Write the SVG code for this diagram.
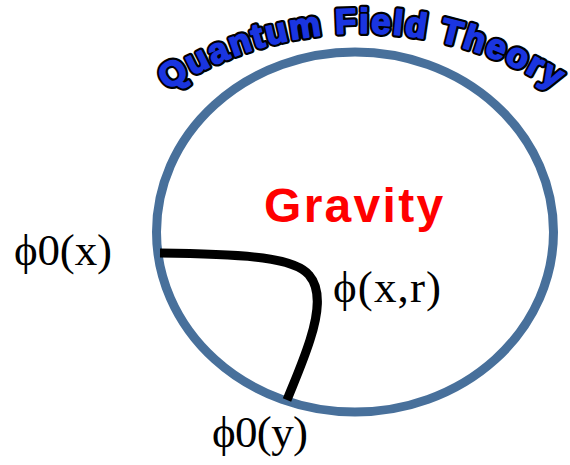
<svg xmlns="http://www.w3.org/2000/svg" width="570" height="465" viewBox="0 0 570 465">
  <style>
    .sym { font-family: "Liberation Serif", "Times New Roman", serif; font-size: 45px; fill: #000; }
    .title { font-family: "Liberation Sans", Arial, sans-serif; font-weight: bold; font-size: 35px; letter-spacing: 2px; stroke-linejoin: round; }
    .outline { fill: #000; stroke: #000; stroke-width: 6; }
    .fillb { fill: #1a35e0; stroke: #1a35e0; stroke-width: 1.6; }
    .grav { font-family: "Liberation Sans", Arial, sans-serif; font-weight: bold; font-size: 48px; letter-spacing: 2.3px; fill: #ff0000; }
  </style>
  <defs>
    <path id="arc" d="M 52 212 A 358 358 0 0 1 672 212"/>
  </defs>
  <rect width="570" height="465" fill="#fff"/>
  <g id="boundary">
    <ellipse cx="355" cy="232" rx="198.5" ry="180" fill="none" stroke="#48709b" stroke-width="9"/>
  </g>
  <g id="connectors">
    <path d="M 160 253 C 250 254, 295 258, 309 275 C 322 290, 318 315, 310 340 C 303 362, 295 380, 287 400" fill="none" stroke="#000" stroke-width="9"/>
  </g>
  <g id="title">
    <text class="title outline" text-anchor="middle"><textPath href="#arc" startOffset="50%">Quantum Field Theory</textPath></text>
    <text class="title fillb" text-anchor="middle"><textPath href="#arc" startOffset="50%">Quantum Field Theory</textPath></text>
  </g>
  <g id="gravity">
    <text class="grav" x="264" y="222">Gravity</text>
  </g>
  <g id="phi0x">
    <text class="sym" x="14" y="265" textLength="98" lengthAdjust="spacing">ϕ0(x)</text>
  </g>
  <g id="phixr">
    <text class="sym" x="333" y="302" textLength="108" lengthAdjust="spacing">ϕ(x,r)</text>
  </g>
  <g id="phi0y">
    <text class="sym" x="212" y="447" textLength="96" lengthAdjust="spacing">ϕ0(y)</text>
  </g>
</svg>
